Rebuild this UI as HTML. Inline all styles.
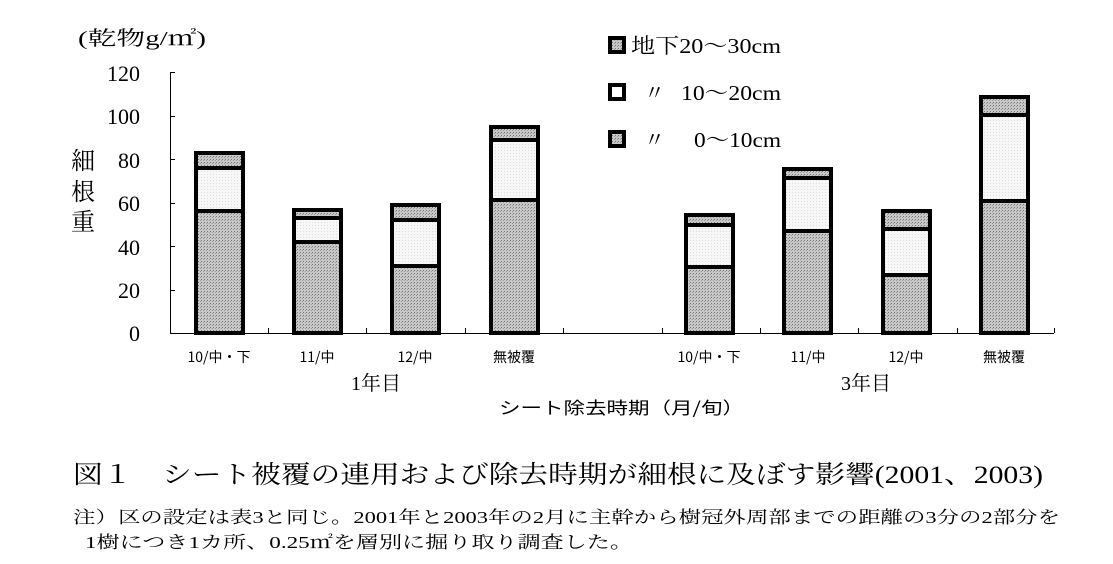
<!DOCTYPE html>
<html><head><meta charset="utf-8"><style>
html,body{margin:0;padding:0;background:#fff;}
svg{display:block;font-family:"Liberation Serif","Noto Serif CJK JP","Noto Serif CJK SC",serif;}
</style></head><body>
<svg width="1113" height="564" viewBox="0 0 1113 564" xmlns="http://www.w3.org/2000/svg">
<defs>
<pattern id="dk" width="3" height="3" patternUnits="userSpaceOnUse"><rect width="3" height="3" fill="#c8c8c8"/><rect width="1" height="1" fill="#777"/><rect x="2" y="1" width="1" height="1" fill="#999"/></pattern>
<pattern id="lt" width="3" height="3" patternUnits="userSpaceOnUse"><rect width="3" height="3" fill="#f7f7f7"/><rect width="1" height="1" fill="#ddd"/></pattern>
</defs>
<text x="78" y="45" font-size="20" textLength="128" lengthAdjust="spacingAndGlyphs">(乾物g/㎡)</text>
<g font-size="22" text-anchor="end">
<text x="140" y="81">120</text><text x="140" y="124">100</text><text x="140" y="168">80</text>
<text x="140" y="211">60</text><text x="140" y="255">40</text><text x="140" y="298">20</text><text x="140" y="341">0</text>
</g>
<g font-size="24"><text x="71" y="169">細</text><text x="71" y="200">根</text><text x="71" y="230">重</text></g>
<g stroke="#000" stroke-width="1">
<line x1="170.5" y1="72" x2="170.5" y2="333"/>
<line x1="170" y1="333.5" x2="1054" y2="333.5"/>
<line x1="170" y1="72.5" x2="175" y2="72.5"/><line x1="170" y1="116.5" x2="175" y2="116.5"/><line x1="170" y1="159.5" x2="175" y2="159.5"/><line x1="170" y1="203.5" x2="175" y2="203.5"/><line x1="170" y1="246.5" x2="175" y2="246.5"/><line x1="170" y1="290.5" x2="175" y2="290.5"/>
<line x1="268.5" y1="328" x2="268.5" y2="333"/><line x1="366.5" y1="328" x2="366.5" y2="333"/><line x1="465.5" y1="328" x2="465.5" y2="333"/><line x1="563.5" y1="328" x2="563.5" y2="333"/><line x1="662.5" y1="328" x2="662.5" y2="333"/><line x1="760.5" y1="328" x2="760.5" y2="333"/><line x1="858.5" y1="328" x2="858.5" y2="333"/><line x1="957.5" y1="328" x2="957.5" y2="333"/><line x1="1054.5" y1="328" x2="1054.5" y2="333"/>
</g>
<g stroke="#000" stroke-width="4">
<rect x="196" y="211" width="47" height="122" fill="url(#dk)"/><rect x="196" y="168" width="47" height="43" fill="url(#lt)"/><rect x="196" y="153" width="47" height="15" fill="url(#dk)"/>
<rect x="294" y="242" width="47" height="91" fill="url(#dk)"/><rect x="294" y="218" width="47" height="24" fill="url(#lt)"/><rect x="294" y="210" width="47" height="8" fill="url(#dk)"/>
<rect x="392" y="266" width="47" height="67" fill="url(#dk)"/><rect x="392" y="220" width="47" height="46" fill="url(#lt)"/><rect x="392" y="205" width="47" height="15" fill="url(#dk)"/>
<rect x="491" y="200" width="47" height="133" fill="url(#dk)"/><rect x="491" y="140" width="47" height="60" fill="url(#lt)"/><rect x="491" y="127" width="47" height="13" fill="url(#dk)"/>
<rect x="686" y="267" width="47" height="66" fill="url(#dk)"/><rect x="686" y="225" width="47" height="42" fill="url(#lt)"/><rect x="686" y="215" width="47" height="10" fill="url(#dk)"/>
<rect x="784" y="231" width="47" height="102" fill="url(#dk)"/><rect x="784" y="178" width="47" height="53" fill="url(#lt)"/><rect x="784" y="169" width="47" height="9" fill="url(#dk)"/>
<rect x="883" y="275" width="47" height="58" fill="url(#dk)"/><rect x="883" y="229" width="47" height="46" fill="url(#lt)"/><rect x="883" y="211" width="47" height="18" fill="url(#dk)"/>
<rect x="981" y="201" width="47" height="132" fill="url(#dk)"/><rect x="981" y="115" width="47" height="86" fill="url(#lt)"/><rect x="981" y="97" width="47" height="18" fill="url(#dk)"/>
</g>
<g stroke="#000" stroke-width="4">
<rect x="610" y="38" width="14" height="14" fill="url(#dk)"/>
<rect x="610" y="85" width="14" height="14" fill="#fff"/>
<rect x="610" y="132" width="14" height="14" fill="url(#dk)"/>
</g>
<g font-size="21">
<text x="631" y="53" textLength="150" lengthAdjust="spacingAndGlyphs">地下20～30cm</text>
<text x="644" y="100">〃</text><text x="681" y="100" textLength="100" lengthAdjust="spacingAndGlyphs">10～20cm</text>
<text x="644" y="147">〃</text><text x="694" y="147" textLength="87" lengthAdjust="spacingAndGlyphs">0～10cm</text>
</g>
<g font-size="14" text-anchor="middle" font-family="'Noto Sans CJK JP','Liberation Sans',sans-serif">
<text x="219" y="362">10/中・下</text><text x="317" y="362">11/中</text><text x="415" y="362">12/中</text><text x="514" y="362">無被覆</text>
<text x="709" y="362">10/中・下</text><text x="808" y="362">11/中</text><text x="906" y="362">12/中</text><text x="1004" y="362">無被覆</text>
</g>
<g font-size="20" text-anchor="middle"><text x="376" y="390">1年目</text><text x="866" y="390">3年目</text></g>
<text x="499" y="414" font-size="17" font-family="'Noto Sans CJK JP','Liberation Sans',sans-serif" textLength="245" lengthAdjust="spacingAndGlyphs">シート除去時期（月/旬）</text>
<text x="73" y="483" font-size="25" textLength="970" lengthAdjust="spacingAndGlyphs">図１　シート被覆の連用および除去時期が細根に及ぼす影響(2001、2003)</text>
<text x="73" y="523" font-size="17" textLength="987" lengthAdjust="spacingAndGlyphs">注）区の設定は表3と同じ。2001年と2003年の2月に主幹から樹冠外周部までの距離の3分の2部分を</text>
<text x="85" y="548" font-size="17" textLength="548" lengthAdjust="spacingAndGlyphs">1樹につき1カ所、0.25㎡を層別に掘り取り調査した。</text>
</svg>
</body></html>
